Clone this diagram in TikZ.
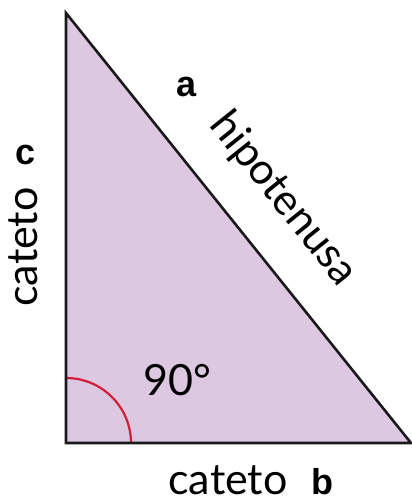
\documentclass[tikz,border=0pt]{standalone}
\usepackage{fontspec}
\setmainfont{Lato}
\newfontfamily\boldsans{Liberation Sans}
\usetikzlibrary{positioning, calc}

\definecolor{lilac}{RGB}{220,200,225}
\definecolor{arcred}{RGB}{210,30,55}

\begin{document}
\begin{tikzpicture}[
    x=1pt, y=1pt,
    side/.style={draw=black!90, line width=2.6pt, line join=miter},
    word/.style={font=\fontsize{43}{43}\selectfont, inner sep=0pt, anchor=base, text depth=0pt},
    letter/.style={font=\boldsans\bfseries\fontsize{36}{36}\selectfont, inner sep=0pt, anchor=base, text depth=0pt}
]
\useasboundingbox (0,0) rectangle (412,501);

% ================= TRIANGLE =================
\coordinate (top) at (66,488);
\coordinate (corner) at (66,58);
\coordinate (right) at (411,58);

\fill[lilac] (top) -- (corner) -- (right) -- cycle;
\draw[arcred, line width=2.2pt] ($(corner)+(0,65)$) arc[start angle=90, end angle=0, radius=65];
\draw[side] (top) -- (corner) -- (right) -- cycle;

% ================= LABELS =================
\coordinate (mid) at ($(top)!0.51!(right)$);
\node[word, rotate=-51.26] (hyp) at ($(mid)!41pt!90:(right)$) {hipotenusa};
\node[letter] (a) at (187,404) {a};

\node[word, rotate=90] (leftleg) at (37,254) {cateto};
\node[letter] (c) at (26,336) {c};

\node[word] (angle) at (177,105) {90°};

\node[word] (bottomleg) at (228,6) {cateto};
\node[letter] (b) at (322,6) {b};

\end{tikzpicture}
\end{document}
